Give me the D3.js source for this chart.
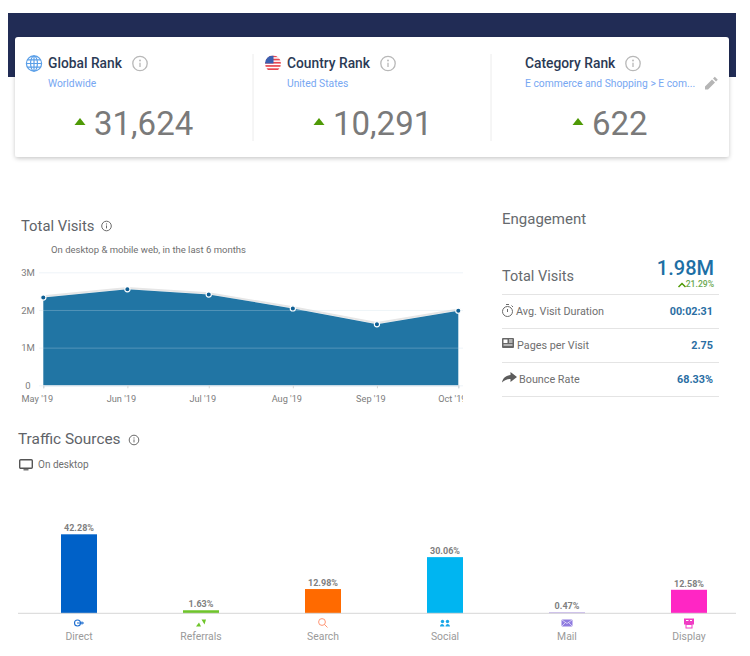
<!DOCTYPE html>
<html>
<head>
<meta charset="utf-8">
<script src="https://cdn.jsdelivr.net/npm/d3@7"></script>
<style>
    body { margin: 0; background: #fff; }
    svg { display: block; font-family: Roboto, sans-serif; }
</style>
</head>
<body>
<div id="chart"></div>
<script>
// Rank cards
const rankTitles = ["Global Rank", "Country Rank", "Category Rank"];
const rankScopes = ["Worldwide", "United States", "E commerce and Shopping > E com..."];
const rankValues = ["31,624", "10,291", "622"];

// Total visits
const visitMonths = ["2019-05-01", "2019-06-01", "2019-07-01", "2019-08-01", "2019-09-01", "2019-10-01"];
const visitValues = [2.33, 2.55, 2.41, 2.04, 1.62, 1.98];
const visitTicks = [0, 1, 2, 3];

// Engagement
const engagementLabels = ["Avg. Visit Duration", "Pages per Visit", "Bounce Rate"];
const engagementValues = ["00:02:31", "2.75", "68.33%"];

// Traffic sources
const sourceNames = ["Direct", "Referrals", "Search", "Social", "Mail", "Display"];
const sourceShares = [42.28, 1.63, 12.98, 30.06, 0.47, 12.58];
const sourceColors = ["#0061c8", "#6fc52b", "#ff6a00", "#00b5f1", "#a98fe3", "#ff26c4"];

const width = 750,
    height = 656;

const svg = d3
    .select("#chart")
    .append("svg")
    .attr("width", width)
    .attr("height", height)
    .attr("viewBox", [0, 0, width, height]);

function label(x, y, text, size, color, weight, anchor) {
    return svg
        .append("text")
        .attr("x", x)
        .attr("y", y)
        .attr("font-size", size)
        .attr("fill", color)
        .attr("font-weight", weight || 400)
        .attr("text-anchor", anchor || "start")
        .text(text);
}

function infoIcon(x, y, r, color) {
    const g = svg.append("g").attr("transform", `translate(${x},${y})`);
    g.append("circle").attr("r", r).attr("fill", "none").attr("stroke", color).attr("stroke-width", r > 6 ? 1.3 : 1);
    g.append("circle").attr("cy", -r * 0.42).attr("r", r * 0.13).attr("fill", color);
    g.append("line").attr("y1", -r * 0.12).attr("y2", r * 0.5).attr("stroke", color).attr("stroke-width", r > 6 ? 1.3 : 1);
}

// Header band and card
const defs = svg.append("defs");
const shadow = defs.append("filter").attr("id", "cardShadow").attr("x", "-5%").attr("y", "-10%").attr("width", "110%").attr("height", "125%");
shadow.append("feDropShadow").attr("dx", 0).attr("dy", 1.5).attr("stdDeviation", 2).attr("flood-color", "#000").attr("flood-opacity", 0.22);

svg.append("rect").attr("x", 8).attr("y", 13).attr("width", 728).attr("height", 64).attr("fill", "#212c55");
svg.append("rect")
    .attr("x", 15)
    .attr("y", 37)
    .attr("width", 714)
    .attr("height", 120)
    .attr("rx", 3)
    .attr("fill", "#fff")
    .attr("filter", "url(#cardShadow)");

[253, 491].forEach((x) => {
    svg.append("line").attr("x1", x).attr("x2", x).attr("y1", 54).attr("y2", 141).attr("stroke", "#ececec");
});

const rankTitleX = [48, 287, 525],
    rankInfoX = [140, 388, 633],
    rankValueX = [94, 333, 592],
    rankArrowX = [80, 319, 578];

rankTitles.forEach((t, i) => {
    label(rankTitleX[i], 68, t, 13.8, "#2b3a55", 500);
    infoIcon(rankInfoX[i], 63.5, 7.2, "#b8b8b8");
    label(rankTitleX[i], 87, rankScopes[i], 10.3, "#77a7f2");
    label(rankValueX[i], 135, rankValues[i], 33, "#7a7a7a");
    svg.append("path")
        .attr("transform", `translate(${rankArrowX[i]},118)`)
        .attr("d", "M0,0L5.5,7H-5.5Z")
        .attr("fill", "#4f9a06");
});

// Globe
const globe = svg
    .append("g")
    .attr("transform", "translate(34,63.5)")
    .attr("fill", "none")
    .attr("stroke", "#5a9fe8")
    .attr("stroke-width", 1.2);
globe.append("circle").attr("r", 7.6);
globe.append("ellipse").attr("rx", 3.4).attr("ry", 7.6);
globe.append("path").attr("d", "M-7.6,0H7.6M-6.6,-3.6H6.6M-6.6,3.6H6.6M0,-7.6V7.6");

// Flag
defs.append("clipPath").attr("id", "flagClip").append("circle").attr("r", 8);
const flag = svg.append("g").attr("transform", "translate(273,63.5)").attr("clip-path", "url(#flagClip)");
flag.append("rect").attr("x", -8).attr("y", -8).attr("width", 16).attr("height", 16).attr("fill", "#fff");
d3.range(-8, 8, 3.2).forEach((y) => {
    flag.append("rect").attr("x", -8).attr("y", y).attr("width", 16).attr("height", 1.7).attr("fill", "#e8474f");
});
flag.append("rect").attr("x", -8).attr("y", -8).attr("width", 8.5).attr("height", 8).attr("fill", "#3a5fb0");

// Pencil
svg.append("path")
    .attr("transform", "translate(705,77)")
    .attr("d", "M0,9.5L0,12.5L3,12.5L10,5.5L7,2.5ZM8,1.5L11,4.5L12.8,2.7L9.8,-0.3Z")
    .attr("fill", "#b5b5b5");

// Total Visits area chart
label(21, 231, "Total Visits", 14.8, "#606368");
infoIcon(106.5, 226, 4.8, "#6a6a6a");
label(51, 253, "On desktop & mobile web, in the last 6 months", 9.5, "#6f6f6f");

const visitData = visitMonths.map((m, i) => ({ date: new Date(m), value: visitValues[i] }));

const x = d3
    .scaleUtc()
    .domain(d3.extent(visitData, (d) => d.date))
    .range([43.3, 458.3]);

const y = d3.scaleLinear().domain([0, 3]).range([385.3, 272.3]);

svg.append("path")
    .datum(visitData)
    .attr("fill", "none")
    .attr("stroke", "#e6e6e6")
    .attr("stroke-width", 2)
    .attr("transform", "translate(0,-1.2)")
    .attr(
        "d",
        d3
            .line()
            .x((d) => x(d.date))
            .y((d) => y(d.value))
    );

svg.append("path")
    .datum(visitData)
    .attr("fill", "#2175a4")
    .attr(
        "d",
        d3
            .area()
            .x((d) => x(d.date))
            .y0(y(0))
            .y1((d) => y(d.value))
    );

const yAxis = svg
    .append("g")
    .attr("class", "y-axis")
    .attr("transform", "translate(463,0)")
    .call(
        d3
            .axisLeft(y)
            .tickValues(visitTicks)
            .tickFormat((d) => (d == 0 ? "0" : d + "M"))
            .tickSize(424)
            .tickPadding(5)
    );
yAxis.select(".domain").remove();
yAxis.selectAll("line").attr("stroke", "rgba(200,220,232,0.3)");
yAxis
    .selectAll("text")
    .attr("x", -435)
    .attr("text-anchor", "middle")
    .attr("font-family", "Roboto, sans-serif")
    .attr("font-size", 9.5)
    .attr("fill", "#7d7d7d");

defs.append("clipPath").attr("id", "xClip").append("rect").attr("x", 0).attr("y", -5).attr("width", 463).attr("height", 30);

const xAxis = svg
    .append("g")
    .attr("class", "x-axis")
    .attr("transform", `translate(0,${y(0)})`)
    .attr("clip-path", "url(#xClip)")
    .call(
        d3
            .axisBottom(x)
            .tickValues(visitData.map((d) => d.date))
            .tickFormat(d3.utcFormat("%b '%y"))
            .tickSize(3)
            .tickPadding(7)
    );
xAxis.select(".domain").attr("stroke", "#c9dbe6");
xAxis.selectAll("line").attr("stroke", "#d5d5d5");
xAxis
    .selectAll("text")
    .attr("x", -6.5)
    .attr("font-family", "Roboto, sans-serif")
    .attr("font-size", 9.2)
    .attr("fill", "#7d7d7d");

svg.append("g")
    .selectAll("circle")
    .data(visitData)
    .join("circle")
    .attr("cx", (d) => x(d.date))
    .attr("cy", (d) => y(d.value))
    .attr("r", 2.6)
    .attr("fill", "#0f5f94")
    .attr("stroke", "#fff")
    .attr("stroke-width", 1.1);

// Engagement
label(502, 224, "Engagement", 15, "#666a6e");
label(502, 281, "Total Visits", 14.5, "#666a6e");
label(714, 275, "1.98M", 20, "#1d6fa5", 500, "end");
label(714, 287, "21.29%", 8.6, "#6aa84f", 500, "end");
svg.append("path")
    .attr("d", "M678.5,287L682,283.5L685.5,287")
    .attr("fill", "none")
    .attr("stroke", "#4f9a06")
    .attr("stroke-width", 1.5);

[294.5, 328.5, 362.5, 396.5].forEach((yy) => {
    svg.append("line").attr("x1", 502).attr("x2", 719).attr("y1", yy).attr("y2", yy).attr("stroke", "#e4e4e4");
});

const rowLabelX = [516, 517, 519],
    rowY = [315, 349, 383];
engagementLabels.forEach((t, i) => {
    label(rowLabelX[i], rowY[i], t, 10.8, "#6f6f6f");
    label(713, rowY[i], engagementValues[i], 10.8, "#2a6ea3", 700, "end");
});

// Row icons
const clock = svg.append("g").attr("transform", "translate(507.5,311.5)").attr("fill", "none").attr("stroke", "#6a6a6a");
clock.append("circle").attr("r", 5).attr("stroke-width", 1);
clock.append("path").attr("d", "M0,-2.5V0.5M-1.5,-7H1.5M4,-6L5.5,-4.5").attr("stroke-width", 1);

const pages = svg.append("g").attr("transform", "translate(502,338)");
pages.append("rect").attr("width", 12).attr("height", 10).attr("rx", 1).attr("fill", "#666");
pages.append("rect").attr("x", 1.5).attr("y", 1.5).attr("width", 4).attr("height", 3.5).attr("fill", "#fff");
pages.append("rect").attr("x", 7).attr("y", 1.5).attr("width", 3.5).attr("height", 1).attr("fill", "#fff");
pages.append("rect").attr("x", 7).attr("y", 3.5).attr("width", 3.5).attr("height", 1).attr("fill", "#fff");
pages.append("rect").attr("x", 1.5).attr("y", 6.5).attr("width", 9).attr("height", 1).attr("fill", "#fff");

svg.append("path")
    .attr("transform", "translate(502,372)")
    .attr("d", "M8.5,0L15,5L8.5,10V7C5,7 2.5,8 0,10.5C0.8,6.5 3.5,3.8 8.5,3Z")
    .attr("fill", "#5c5c5c");

// Traffic Sources bars
label(18, 444, "Traffic Sources", 15.4, "#606368");
infoIcon(134, 440, 4.8, "#6a6a6a");
label(38, 468, "On desktop", 10, "#6f6f6f");

const monitor = svg.append("g").attr("transform", "translate(19,459)");
monitor.append("rect").attr("x", 0.7).attr("y", 0.7).attr("width", 12.6).attr("height", 8.6).attr("rx", 1).attr("fill", "none").attr("stroke", "#555").attr("stroke-width", 1.4);
monitor.append("rect").attr("x", 4.5).attr("y", 10).attr("width", 5).attr("height", 1.5).attr("fill", "#777");

const barX = d3.scaleBand().domain(sourceNames).range([18, 750]).paddingInner(0.705).paddingOuter(0.3525);
const barY = d3
    .scaleLinear()
    .domain([0, d3.max(sourceShares)])
    .range([613.3, 534.3]);

svg.append("g")
    .selectAll("rect")
    .data(sourceNames)
    .join("rect")
    .attr("x", (d) => barX(d))
    .attr("y", (d, i) => barY(sourceShares[i]))
    .attr("width", barX.bandwidth())
    .attr("height", (d, i) => barY(0) - barY(sourceShares[i]))
    .attr("fill", (d, i) => sourceColors[i]);

svg.append("g")
    .selectAll("text")
    .data(sourceNames)
    .join("text")
    .attr("x", (d) => barX(d) + barX.bandwidth() / 2)
    .attr("y", (d, i) => barY(sourceShares[i]) - 3)
    .attr("text-anchor", "middle")
    .attr("font-size", 9)
    .attr("font-weight", 700)
    .attr("fill", "#808080")
    .text((d, i) => sourceShares[i].toFixed(2) + "%");

const barAxis = svg
    .append("g")
    .attr("class", "x-axis")
    .attr("transform", `translate(0,${barY(0)})`)
    .call(d3.axisBottom(barX).tickSize(0).tickPadding(19));
barAxis.select(".domain").remove();
barAxis
    .selectAll("text")
    .attr("font-family", "Roboto, sans-serif")
    .attr("font-size", 10.4)
    .attr("fill", "#9a9a9a");
svg.append("line")
    .attr("x1", 18)
    .attr("x2", 736)
    .attr("y1", barY(0))
    .attr("y2", barY(0))
    .attr("stroke", "#d6d6d6");

// Source icons
const sourceIcons = sourceNames.map((d) =>
    svg.append("g").attr("transform", `translate(${barX(d) + barX.bandwidth() / 2},623)`)
);
sourceIcons[0].append("circle").attr("r", 3).attr("cx", -1.5).attr("fill", "none").attr("stroke", "#1f6fd0").attr("stroke-width", 1.1);
sourceIcons[0].append("path").attr("d", "M-2,0H5M3,-1.5V1.5").attr("stroke", "#1f6fd0").attr("stroke-width", 1.1);
sourceIcons[1].append("path").attr("d", "M-5,3.5L-2,-0.5L0,3.5ZM0.5,-3.5H5L3.5,1.5Z").attr("fill", "#6fc52b");
sourceIcons[2].append("circle").attr("cx", -1).attr("cy", -1).attr("r", 3.4).attr("fill", "none").attr("stroke", "#ff8a65").attr("stroke-width", 0.9);
sourceIcons[2].append("line").attr("x1", 1.5).attr("y1", 1.5).attr("x2", 4.5).attr("y2", 4.5).attr("stroke", "#ff8a65").attr("stroke-width", 0.9);
sourceIcons[3].append("path").attr("d", "M-5,3.5C-5,0 -1,0 -0.5,3.5ZM0.5,3.5C0.5,0 4.8,0 5,3.5Z").attr("fill", "#1aa7e8");
sourceIcons[3].append("circle").attr("cx", -2.5).attr("cy", -1.5).attr("r", 1.7).attr("fill", "#1aa7e8");
sourceIcons[3].append("circle").attr("cx", 2.5).attr("cy", -1.5).attr("r", 1.7).attr("fill", "#1aa7e8");
sourceIcons[4].append("rect").attr("x", -5.5).attr("y", -3.5).attr("width", 11).attr("height", 7).attr("rx", 1).attr("fill", "#8f7be0");
sourceIcons[4].append("path").attr("d", "M-5,-3L0,0.5L5,-3M-5,3L-1.5,-0.5M5,3L1.5,-0.5").attr("fill", "none").attr("stroke", "#fff").attr("stroke-width", 0.6);
sourceIcons[5].append("rect").attr("x", -5).attr("y", -4.5).attr("width", 10).attr("height", 6).attr("fill", "#f03cc4");
sourceIcons[5].append("rect").attr("x", -3).attr("y", 1.5).attr("width", 6).attr("height", 3.5).attr("fill", "none").attr("stroke", "#f03cc4");
sourceIcons[5].append("path").attr("d", "M-3,-2.5H-0.5M1,-2.5H3").attr("stroke", "#fff").attr("stroke-width", 1.2);
</script>
</body>
</html>
